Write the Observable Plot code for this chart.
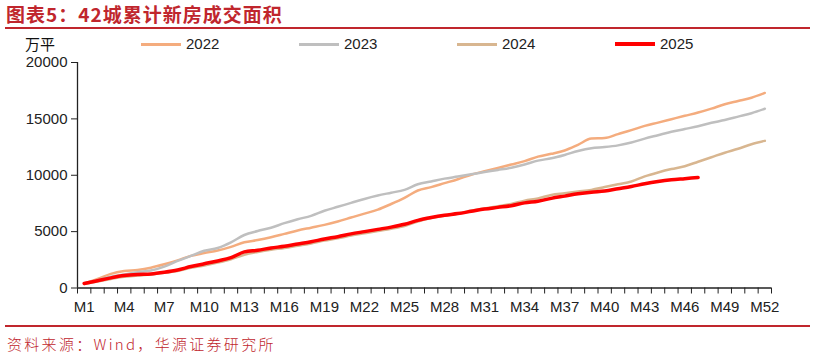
<!DOCTYPE html>
<html><head><meta charset="utf-8">
<script src="https://cdn.jsdelivr.net/npm/d3@7"></script>
<script src="https://cdn.jsdelivr.net/npm/@observablehq/plot@0.6"></script>
<style>
body{margin:0;background:#fff;}
#wrap{position:relative;width:815px;height:360px;overflow:hidden;font-family:"Liberation Sans",Arial,sans-serif;background:#fff;}
#title{position:absolute;left:6px;top:3px;font-family:"Noto Sans CJK SC",sans-serif;font-weight:700;font-size:19px;line-height:22px;letter-spacing:1px;color:#C0262D;white-space:nowrap;}
.rule{position:absolute;left:5px;right:5px;height:2px;background:#C0262D;}
#unit{position:absolute;left:25px;top:35px;font-family:"Noto Sans CJK SC",sans-serif;font-size:15px;line-height:18px;color:#111;}
.leg{position:absolute;top:35px;height:18px;font-size:15px;line-height:18px;color:#222;white-space:nowrap;}
.leg span.sw{position:absolute;left:0;top:8px;width:40px;height:3px;}
.leg span.tx{position:absolute;left:45px;top:0;}
#chart{position:absolute;left:0;top:50px;}
#source{position:absolute;left:7px;top:335px;font-family:"Noto Sans CJK SC",sans-serif;font-size:15px;line-height:18px;letter-spacing:2.3px;color:#C0262D;white-space:nowrap;font-weight:300;}
</style></head><body>
<div id="wrap">
  <div id="title">图表5：42城累计新房成交面积</div>
  <div class="rule" style="top:27px"></div>
  <div id="unit">万平</div>
  <div id="legend"></div>
  <div id="chart"></div>
  <div class="rule" style="top:325px;height:2px"></div>
  <div id="source">资料来源：Wind，华源证券研究所</div>
</div>
<script>
// Category labels M1..M52
const months = ["M1","M2","M3","M4","M5","M6","M7","M8","M9","M10","M11","M12","M13","M14","M15","M16","M17","M18","M19","M20","M21","M22","M23","M24","M25","M26","M27","M28","M29","M30","M31","M32","M33","M34","M35","M36","M37","M38","M39","M40","M41","M42","M43","M44","M45","M46","M47","M48","M49","M50","M51","M52"];
const xTickLabels = ["M1","M4","M7","M10","M13","M16","M19","M22","M25","M28","M31","M34","M37","M40","M43","M46","M49","M52"];
const yTicks = [0, 5000, 10000, 15000, 20000];
const years = ["2022","2023","2024","2025"];
const colors = ["#F4AC7E","#BFBFBF","#D8B690","#FF0000"];
const widths = [2.5, 2.5, 2.5, 3.5];

const v2022 = [400,800,1250,1500,1600,1800,2100,2450,2850,3100,3320,3650,4050,4250,4500,4800,5100,5350,5600,5900,6250,6600,6950,7450,8000,8650,8950,9300,9650,10050,10350,10650,10950,11250,11650,11900,12200,12700,13250,13300,13650,14000,14380,14670,14970,15270,15560,15910,16300,16590,16880,17300];
const v2023 = [400,700,1000,1200,1400,1550,1900,2400,2850,3300,3550,4050,4700,5050,5350,5750,6100,6400,6850,7200,7550,7900,8200,8450,8700,9200,9450,9700,9880,10080,10280,10470,10670,10950,11300,11500,11800,12150,12400,12500,12650,12900,13250,13550,13850,14100,14350,14650,14900,15200,15500,15900];
const v2024 = [350,580,800,1000,1100,1200,1350,1500,1800,2000,2250,2550,2950,3200,3400,3550,3750,3950,4200,4400,4650,4850,5050,5250,5500,5900,6200,6400,6600,6850,7050,7250,7450,7750,7950,8250,8400,8550,8700,8950,9200,9450,9900,10250,10550,10800,11200,11600,12000,12350,12750,13050];
const v2025 = [400,650,900,1100,1200,1250,1400,1600,1900,2150,2400,2700,3200,3350,3550,3700,3900,4100,4350,4550,4800,5000,5200,5400,5650,6000,6250,6450,6600,6800,7000,7150,7300,7550,7700,7950,8150,8350,8500,8600,8800,9000,9250,9450,9600,9700,9800];

const series = [v2022, v2023, v2024, v2025];
const rows = [];
series.forEach((vals, s) => vals.forEach((v, i) => rows.push({m: i + 1, v, year: years[s]})));
const idx = Object.fromEntries(months.map((m, i) => [m, i + 1]));

// legend
const leg = document.getElementById("legend");
years.forEach((y, i) => {
  const d = document.createElement("div");
  d.className = "leg";
  d.style.left = (141 + i * 158) + "px";
  d.innerHTML = `<span class="sw" style="background:${colors[i]};height:${i===3?4:3}px;top:${i===3?7:8}px"></span><span class="tx">${y}</span>`;
  leg.appendChild(d);
});

const chart = Plot.plot({
  width: 815,
  height: 275,
  marginLeft: 77,
  marginRight: 44,
  marginTop: 12,
  marginBottom: 37.5,
  style: {fontFamily: "'Liberation Sans', Arial, sans-serif", fontSize: "15px", color: "#222", background: "transparent", overflow: "visible"},
  x: {type: "linear", domain: [0.5, 52.5]},
  y: {domain: [0, 20000]},
  color: {domain: years, range: colors},
  marks: [
    Plot.axisY({ticks: yTicks, tickSize: 6, tickPadding: 4, tickFormat: d => String(d), label: null, stroke: "#222"}),
    Plot.axisX({ticks: d3.range(0.5, 53, 1), tickSize: 6, tickFormat: () => "", label: null, stroke: "#222"}),
    Plot.axisX({ticks: xTickLabels.map(t => idx[t]), tickSize: 0, tickPadding: 13, tickFormat: d => months[d - 1], label: null}),
    ...years.map((y, i) => Plot.line(rows.filter(r => r.year === y), {x: "m", y: "v", stroke: colors[i], strokeWidth: widths[i], curve: "monotone-x", strokeLinejoin: "round", strokeLinecap: "round"})),
    Plot.ruleY([0], {stroke: "#222", strokeWidth: 1.3}),
    Plot.ruleX([0.5], {stroke: "#222", strokeWidth: 1.3})
  ]
});
document.getElementById("chart").appendChild(chart);
</script>
</body></html>
